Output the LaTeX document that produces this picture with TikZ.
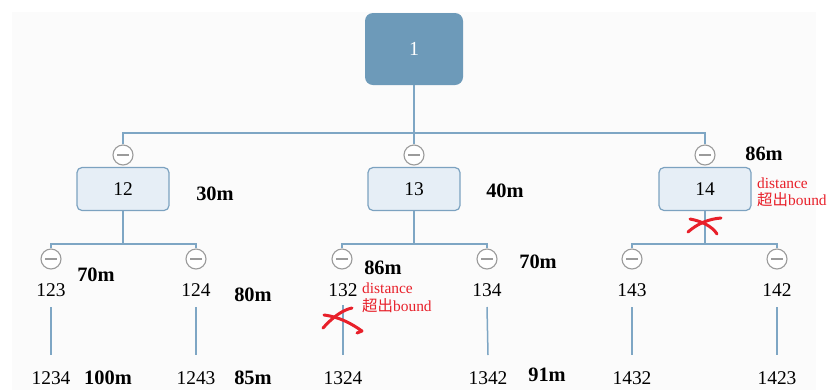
\documentclass[tikz,border=0pt]{standalone}
\usepackage{fontspec}
\setmainfont{Liberation Serif}
\newfontfamily\cjk{Noto Sans CJK SC}
\definecolor{linkblue}{HTML}{7EA6C4}
\definecolor{rootfill}{HTML}{6D9AB9}
\definecolor{boxfill}{HTML}{E6EEF6}
\definecolor{boxline}{HTML}{7CA2C0}
\definecolor{knobline}{HTML}{9B9B9B}
\definecolor{markred}{HTML}{E8202A}
\definecolor{panel}{HTML}{FBFBFB}
\begin{document}
\begin{tikzpicture}[x=1bp,y=-1bp,
  link/.style={draw=linkblue,line width=1.5bp},
  rootbox/.style={rectangle,rounded corners=8bp,fill=rootfill,minimum width=98bp,minimum height=72bp,
    text=white,font=\fontsize{20}{20}\selectfont},
  midbox/.style={rectangle,rounded corners=5bp,fill=boxfill,draw=boxline,line width=1.2bp,
    minimum width=92bp,minimum height=43bp,font=\fontsize{19.5}{19.5}\selectfont},
  knob/.style={circle,draw=knobline,fill=white,line width=1.1bp,minimum size=20bp,inner sep=0pt,
    path picture={\draw[knobline,line width=1.3bp]
      ([xshift=-6bp]path picture bounding box.center) -- ([xshift=6bp]path picture bounding box.center);}},
  leaf/.style={inner sep=0pt,font=\fontsize{19.5}{19.5}\selectfont},
  dist/.style={inner sep=0pt,font=\bfseries\fontsize{20.5}{20.5}\selectfont},
  note/.style={inner sep=0pt,anchor=west,text=markred,font=\fontsize{15.5}{15.5}\selectfont},
  cross/.style={draw=markred,line width=3bp,line cap=round,line join=round}]
\useasboundingbox (0,0) rectangle (828,390);
\fill[white] (0,0) rectangle (828,390);
\fill[panel] (12,12) rectangle (816,390);

% root and first level
\node[rootbox] (r) at (414,49) {1};
\node[knob] (k12) at (123,155) {};
\node[knob] (k13) at (414,155) {};
\node[knob] (k14) at (705,155) {};
\node[midbox] (b12) at (123,189) {12};
\node[midbox] (b13) at (414,189) {13};
\node[midbox] (b14) at (705,189) {14};
\coordinate (h0) at (414,133);
\draw[link] (r.south) -- (h0);
\draw[link] (k12.north) -- (k12.north |- h0) -- (k14.north |- h0) -- (k14.north);
\draw[link] (h0) -- (k13.north);

% second level knobs
\node[knob] (k123) at (51,259) {};
\node[knob] (k124) at (196,259) {};
\node[knob] (k132) at (342,259) {};
\node[knob] (k134) at (487,259) {};
\node[knob] (k143) at (632,259) {};
\node[knob] (k142) at (777,259) {};
\coordinate (h12) at (123,244);
\coordinate (h13) at (414,244);
\coordinate (h14) at (705,244);
\draw[link] (b12.south) -- (h12);
\draw[link] (b13.south) -- (h13);
\draw[link] (b14.south) -- (h14);
\draw[link] (k123.north) -- (k123.north |- h12) -- (k124.north |- h12) -- (k124.north);
\draw[link] (k132.north) -- (k132.north |- h13) -- (k134.north |- h13) -- (k134.north);
\draw[link] (k143.north) -- (k143.north |- h14) -- (k142.north |- h14) -- (k142.north);

% second level labels
\node[leaf] (n123) at (51,290) {123};
\node[leaf] (n124) at (196,290) {124};
\node[leaf] (n132) at (343,290) {132};
\node[leaf] (n134) at (487,290) {134};
\node[leaf] (n143) at (632,290) {143};
\node[leaf] (n142) at (777,290) {142};

% leaves
\node[leaf] (n1234) at (51,378) {1234};
\node[leaf] (n1243) at (196,378) {1243};
\node[leaf] (n1324) at (343,378) {1324};
\node[leaf] (n1342) at (488,378) {1342};
\node[leaf] (n1432) at (632,378) {1432};
\node[leaf] (n1423) at (777,378) {1423};
\foreach \a/\b in {n123/n1234,n124/n1243,n134/n1342,n143/n1432,n142/n1423}
  \draw[link] ([yshift=-17bp]\a.center) -- ([yshift=23bp]\b.center);
\draw[link] ([yshift=-15bp]n132.center) -- ([yshift=23bp]n1324.center);

% distances
\node[dist] (d12) at (215,194) {30m};
\node[dist] (d13) at (505,191) {40m};
\node[dist] (d14) at (764,154) {86m};
\node[dist] (d123) at (96,275) {70m};
\node[dist] (d124) at (253,295) {80m};
\node[dist] (d132) at (383,268) {86m};
\node[dist] (d134) at (538,262) {70m};
\node[dist] (d1234) at (108,378) {100m};
\node[dist] (d1243) at (253,378) {85m};
\node[dist] (d1342) at (547,375) {91m};

% out-of-bound notes
\node[note] (o14a) at (757,183) {distance};
\node[note] (o14b) at (757,200) {{\cjk 超出}bound};
\node[note] (o132a) at (362,288) {distance};
\node[note] (o132b) at (362,306) {{\cjk 超出}bound};

% pruning marks
\draw[cross] (323,328) .. controls (332,318) and (342,310) .. (352,308);
\draw[cross] (324,315) .. controls (340,317) and (352,324) .. (362,331) -- (357,333);
\draw[cross] (688,232) .. controls (697,224) and (708,219) .. (721,218);
\draw[cross] (690,219) .. controls (701,221) and (712,226) .. (717,234);
\end{tikzpicture}
\end{document}
